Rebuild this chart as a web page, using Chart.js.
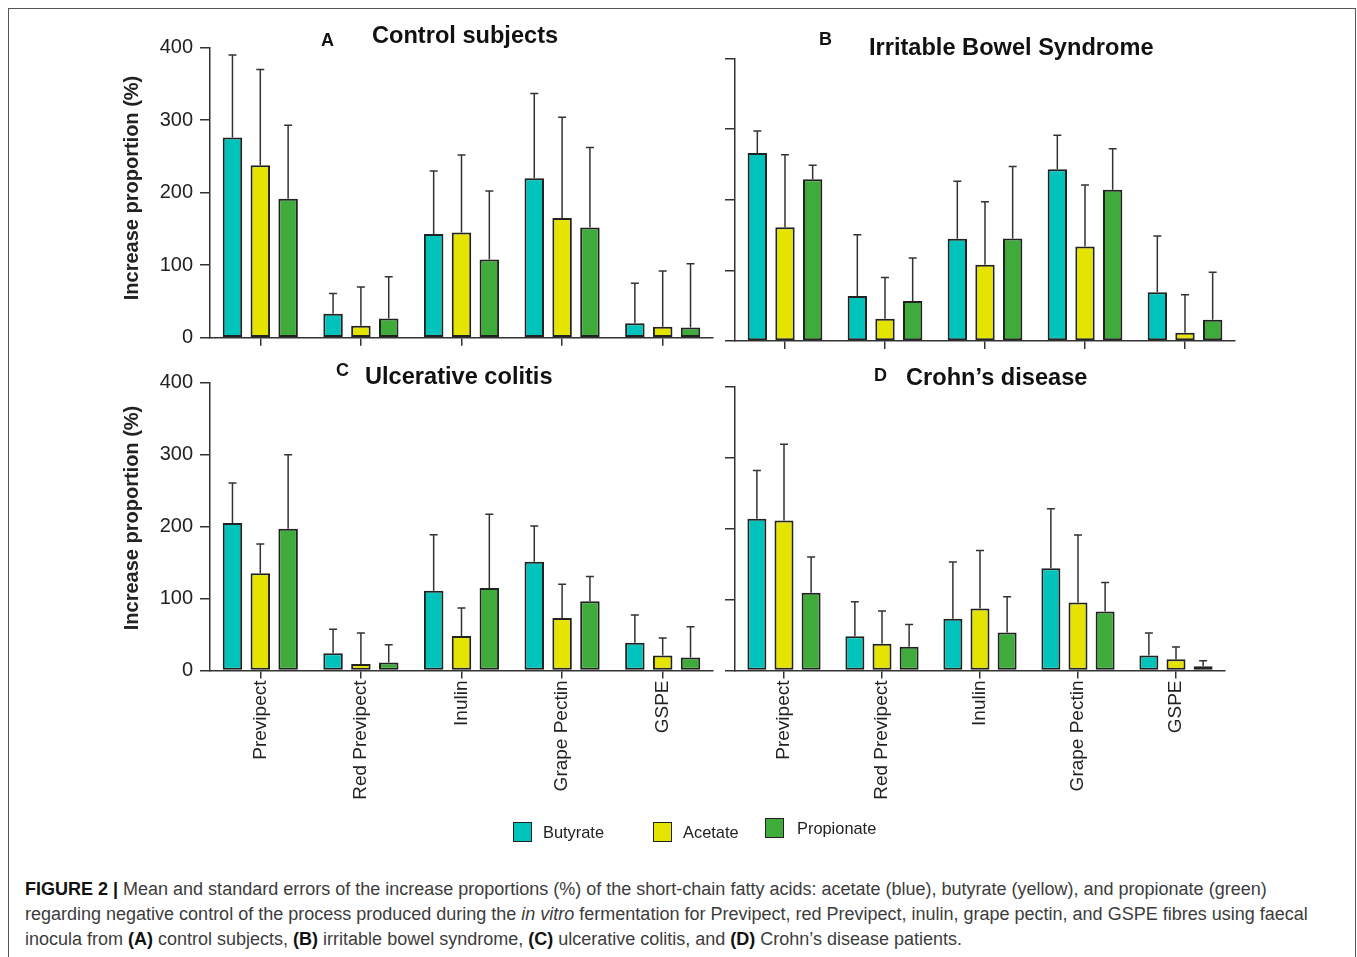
<!DOCTYPE html>
<html>
<head>
<meta charset="utf-8">
<script src="https://cdn.jsdelivr.net/npm/chart.js@4.4.0/dist/chart.umd.min.js"></script>
<style>
  html, body { margin: 0; padding: 0; background: #fff; }
  body { width: 1357px; height: 957px; overflow: hidden; position: relative; font-family: 'Liberation Sans', Arial, sans-serif; }
  .frame { position: absolute; left: 8px; top: 8px; width: 1348px; height: 1000px; border: 1.5px solid #555; box-sizing: border-box; }
  .cvwrap { position: absolute; }
  .ytitle { position: absolute; white-space: nowrap; font-weight: bold; font-size: 20px; color: #222; transform: translate(-50%, -50%) rotate(-90deg); }
  .ptitle { position: absolute; white-space: nowrap; font-weight: bold; font-size: 23.6px; line-height: 23.6px; color: #111; }
  .pletter { position: absolute; white-space: nowrap; font-weight: bold; font-size: 18px; line-height: 18px; color: #111; }
  .sw { position: absolute; width: 19px; height: 20px; border: 1.5px solid #222; box-sizing: border-box; }
  .lt { position: absolute; font-size: 16.4px; line-height: 20px; color: #222; white-space: nowrap; }
  .cap { position: absolute; left: 25px; font-size: 18px; line-height: 25px; color: #3c3c3c; white-space: nowrap; }
  .cap b { color: #111; }
</style>
</head>
<body>
<div class="frame"></div>

<script>
// ---------- DATA ----------
const categories = ['Previpect', 'Red Previpect', 'Inulin', 'Grape Pectin', 'GSPE'];
const seriesNames = ['Butyrate', 'Acetate', 'Propionate'];
const yTickValues = [0, 100, 200, 300, 400];

// Panel A: Control subjects (means and standard errors)
const butyrateA   = [276, 33, 143, 220, 20];
const butyrateA_se = [114, 28, 87, 117, 55];
const acetateA    = [238, 16.5, 145, 165, 15];
const acetateA_se  = [132, 53.5, 107, 139, 77];
const propionateA = [191.5, 26.5, 108, 152, 14];
const propionateA_se = [101.5, 57.5, 94.5, 110.5, 88];

// Panel B: Irritable Bowel Syndrome
const butyrateB   = [266, 63.5, 144.5, 243, 69];
const butyrateB_se = [31, 87, 81.5, 48, 79.7];
const acetateB    = [161, 31.5, 108, 133.6, 11.8];
const acetateB_se  = [102.5, 58.5, 89, 87, 53.6];
const propionateB = [229, 56.5, 145, 214, 30];
const propionateB_se = [19.5, 61, 102, 58, 67.4];

// Panel C: Ulcerative colitis
const butyrateC   = [205, 24, 111, 151, 38.5];
const butyrateC_se = [55.5, 33.5, 77.6, 49.7, 38.5];
const acetateC    = [135, 9, 48, 73, 21];
const acetateC_se  = [40.7, 43, 39, 47, 24];
const propionateC = [197, 11, 114.5, 96.4, 18];
const propionateC_se = [103, 24.7, 102.5, 34.3, 42.7];

// Panel D: Crohn's disease
const butyrateD   = [214, 48.4, 73, 144, 21];
const butyrateD_se = [68, 48.6, 80, 84, 32];
const acetateD    = [211.5, 37.6, 87.4, 96, 16];
const acetateD_se  = [107.5, 46.4, 81.6, 95, 17];
const propionateD = [109.5, 33.4, 53.6, 83, 6];
const propionateD_se = [50.5, 31.6, 50.4, 41, 7.6];

const panelLetters = ['A', 'B', 'C', 'D'];
const panelTitles = ['Control subjects', 'Irritable Bowel Syndrome', 'Ulcerative colitis', 'Crohn\u2019s disease'];
const yAxisTitle = 'Increase proportion (%)';

// ---------- STYLE ----------
const colors = ['#00c4bc', '#e5e300', '#3fab3a'];
const edge = '#222';
Chart.defaults.font.family = "'Liberation Sans', Arial, sans-serif";

const errorBarPlugin = {
  id: 'errorBars',
  afterDatasetsDraw(chart) {
    const ctx = chart.ctx;
    const ys = chart.scales.y;
    chart.data.datasets.forEach((ds, i) => {
      const meta = chart.getDatasetMeta(i);
      meta.data.forEach((bar, j) => {
        const top = ys.getPixelForValue(ds.data[j] + ds.errors[j]);
        ctx.save();
        ctx.strokeStyle = '#333';
        ctx.lineWidth = 1.5;
        ctx.beginPath();
        ctx.moveTo(bar.x, bar.y);
        ctx.lineTo(bar.x, top);
        ctx.moveTo(bar.x - 4, top);
        ctx.lineTo(bar.x + 4, top);
        ctx.stroke();
        ctx.restore();
      });
    });
  }
};

function makePanel(canvasRect, area, data, showYLabels, showXLabels) {
  const wrap = document.createElement('div');
  wrap.className = 'cvwrap';
  wrap.style.left = canvasRect.x + 'px';
  wrap.style.top = canvasRect.y + 'px';
  wrap.style.width = canvasRect.w + 'px';
  wrap.style.height = canvasRect.h + 'px';
  const cv = document.createElement('canvas');
  cv.width = canvasRect.w; cv.height = canvasRect.h;
  cv.style.width = canvasRect.w + 'px'; cv.style.height = canvasRect.h + 'px';
  wrap.appendChild(cv);
  document.body.appendChild(wrap);

  const yWidth = area.l - canvasRect.x;
  const padTop = area.t - canvasRect.y;
  const padRight = canvasRect.x + canvasRect.w - area.r;
  const xHeight = canvasRect.y + canvasRect.h - area.b;

  new Chart(cv, {
    type: 'bar',
    data: {
      labels: categories,
      datasets: data.map((d, i) => ({
        label: seriesNames[i],
        data: d.values,
        errors: d.se,
        backgroundColor: colors[i],
        borderColor: edge,
        borderWidth: 2,
        borderSkipped: false,
        categoryPercentage: 0.83,
        barPercentage: 0.70
      }))
    },
    options: {
      responsive: false,
      animation: false,
      devicePixelRatio: 1,
      layout: { padding: { top: padTop, left: 0, right: padRight, bottom: 0 } },
      plugins: { legend: { display: false }, title: { display: false }, tooltip: { enabled: false } },
      scales: {
        x: {
          type: 'category',
          offset: true,
          grid: { display: true, offset: false, drawOnChartArea: false, drawTicks: true, tickLength: 8, color: '#333', lineWidth: 1.5 },
          border: { display: true, color: '#333', width: 1.5 },
          ticks: {
            display: showXLabels,
            autoSkip: false,
            maxRotation: 90, minRotation: 90,
            padding: 2,
            color: '#222',
            font: { size: 19 }
          },
          afterFit(s) { s.height = xHeight; }
        },
        y: {
          min: 0, max: 400,
          afterBuildTicks(s) { s.ticks = yTickValues.map(v => ({ value: v })); },
          grid: { display: true, drawOnChartArea: false, drawTicks: true, tickLength: 10, color: '#333', lineWidth: 1.5 },
          border: { display: true, color: '#333', width: 1.5 },
          ticks: {
            padding: 7,
            color: '#222',
            font: { size: 20 },
            callback: (v) => showYLabels ? String(v) : ''
          },
          afterFit(s) { s.width = yWidth; }
        }
      }
    },
    plugins: [errorBarPlugin]
  });
}

makePanel({ x: 100, y: 0, w: 640, h: 360 }, { l: 210, t: 47.7, r: 713, b: 337.7 },
  [{ values: butyrateA, se: butyrateA_se }, { values: acetateA, se: acetateA_se }, { values: propionateA, se: propionateA_se }], true, false);
makePanel({ x: 640, y: 0, w: 620, h: 360 }, { l: 735, t: 58.3, r: 1235, b: 341.7 },
  [{ values: butyrateB, se: butyrateB_se }, { values: acetateB, se: acetateB_se }, { values: propionateB, se: propionateB_se }], false, false);
makePanel({ x: 100, y: 350, w: 640, h: 480 }, { l: 210, t: 382.7, r: 713, b: 670.5 },
  [{ values: butyrateC, se: butyrateC_se }, { values: acetateC, se: acetateC_se }, { values: propionateC, se: propionateC_se }], true, true);
makePanel({ x: 640, y: 350, w: 620, h: 480 }, { l: 735, t: 386.7, r: 1225, b: 670.5 },
  [{ values: butyrateD, se: butyrateD_se }, { values: acetateD, se: acetateD_se }, { values: propionateD, se: propionateD_se }], false, true);

// ---------- TEXT OVERLAYS ----------
function addDiv(cls, text, css) {
  const d = document.createElement('div');
  d.className = cls;
  d.textContent = text;
  Object.assign(d.style, css);
  document.body.appendChild(d);
  return d;
}
addDiv('ytitle', yAxisTitle, { left: '131px', top: '188px' });
addDiv('ytitle', yAxisTitle, { left: '131px', top: '518px' });

const letterPos = [[321, 31], [819, 30], [336, 361], [874, 366]];
const titlePos = [[372, 23.5], [869, 36], [365, 365], [906, 366]];
panelLetters.forEach((l, i) => addDiv('pletter', l, { left: letterPos[i][0] + 'px', top: letterPos[i][1] + 'px' }));
panelTitles.forEach((t, i) => addDiv('ptitle', t, { left: titlePos[i][0] + 'px', top: titlePos[i][1] + 'px' }));

// legend
const legendPos = [[513, 822, 543, 822], [653, 822, 683, 822], [765, 818, 797, 818]];
seriesNames.forEach((n, i) => {
  addDiv('sw', '', { left: legendPos[i][0] + 'px', top: legendPos[i][1] + 'px', background: colors[i] });
  addDiv('lt', n, { left: legendPos[i][2] + 'px', top: legendPos[i][3] + 'px' });
});
</script>

<div class="cap" style="top:877px;"><b>FIGURE 2 |</b> Mean and standard errors of the increase proportions (%) of the short-chain fatty acids: acetate (blue), butyrate (yellow), and propionate (green)</div>
<div class="cap" style="top:902px;">regarding negative control of the process produced during the <i>in vitro</i> fermentation for Previpect, red Previpect, inulin, grape pectin, and GSPE fibres using faecal</div>
<div class="cap" style="top:927px;">inocula from <b>(A)</b> control subjects, <b>(B)</b> irritable bowel syndrome, <b>(C)</b> ulcerative colitis, and <b>(D)</b> Crohn’s disease patients.</div>
</body>
</html>
